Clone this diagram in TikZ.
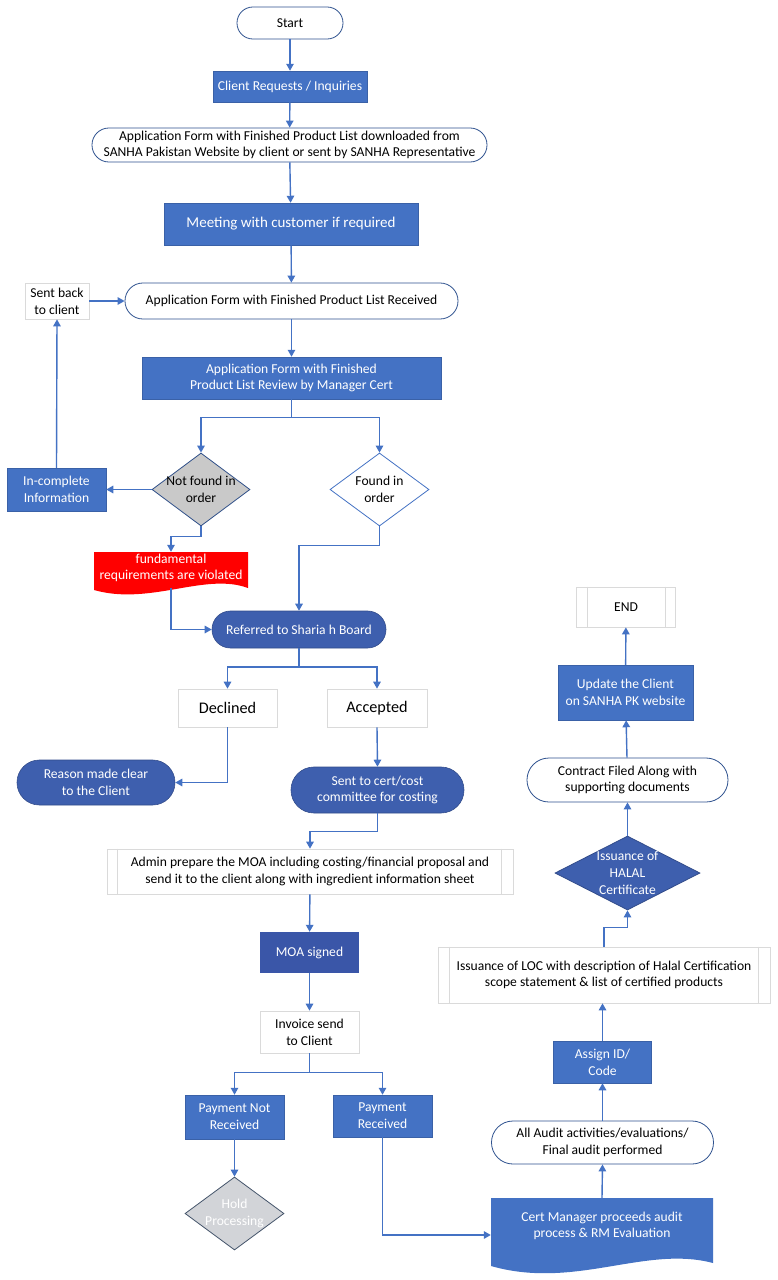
\documentclass[tikz,border=0pt]{standalone}
\usepackage{fontspec}
\setmainfont{Carlito}
\usetikzlibrary{arrows.meta,shapes.geometric,calc}
\definecolor{obl}{HTML}{4472C4}
\definecolor{dbl}{HTML}{3E5FAE}
\definecolor{mbl}{HTML}{3A56A8}
\definecolor{bord}{HTML}{2F528F}
\definecolor{faintc}{HTML}{DADADA}
\definecolor{gry}{HTML}{C9C9C9}
\definecolor{lgry}{HTML}{D2D4D8}
\definecolor{slate}{HTML}{44546A}
\newcommand\fs{\fontsize{13.6pt}{16.7pt}\selectfont}
\newcommand\fsb{\fontsize{15pt}{18pt}\selectfont}
\newcommand\fsc{\fontsize{16.2pt}{19pt}\selectfont}
\tikzset{
  sz/.style 2 args={minimum width=#1pt, minimum height=#2pt},
  base/.style={inner sep=0pt, align=center, font=\fs},
  term/.style={base, draw=bord, line width=0.8pt, fill=white},
  blu/.style={base, fill=obl, draw=obl!85!black, line width=0.5pt, text=white},
  dstad/.style={base, fill=dbl, draw=dbl!80!black, line width=0.6pt, text=white},
  pale/.style={base, draw=faintc, line width=0.7pt, fill=white},
  paleline/.style={draw=faintc, line width=0.7pt},
  dia/.style={diamond, inner sep=0pt, line width=0.8pt},
  conn/.style={draw=obl, line width=1.4pt, -{Triangle[length=7pt,width=7.5pt]}},
}
\begin{document}
\begin{tikzpicture}[x=1pt,y=-1pt]
\fill[white] (0,0) rectangle (778,1280);
\useasboundingbox (0,0) rectangle (778,1280);

% left column / main flow
\node[term, sz={106}{32}, rounded corners=15.9pt] (start) at (290,23) {Start};
\node[blu, sz={154}{31}] (cli) at (290,86.5) {Client Requests / Inquiries};
\node[term, sz={395}{34}, rounded corners=16.9pt] (adl) at (289.5,145) {Application Form with Finished Product List downloaded from\\SANHA Pakistan Website by client or sent by SANHA Representative};
\node[blu, sz={254}{42}, font=\fsb] (meet) at (291,224) {Meeting with customer if required};
\node[term, sz={333}{36}, rounded corners=17.9pt] (apr) at (291.5,301) {Application Form with Finished Product List Received};
\node[pale, sz={64}{36}] (sb) at (57,301) {Sent back\\to client};
\node[blu, sz={299}{42}] (rev) at (291.5,378) {Application Form with Finished\\Product List Review by Manager Cert};
\node[dia, draw=obl!70!black, fill=gry, sz={98}{73}, label={[base]center:Not found in\\order}] (nf) at (201,489.5) {};
\node[dia, draw=obl, fill=white, sz={99}{73}, label={[base]center:Found in\\order}] (fo) at (379.5,489.5) {};
\node[blu, sz={99}{43}] (inc) at (56.5,489.5) {In-complete\\Information};

\fill[red] (94,552) -- (248,552) -- (248,588) .. controls (205,572) and (150,606) .. (94,590) -- cycle;
\node[base, text=white, sz={154}{32}] (fund) at (171,568) {fundamental\\requirements are violated};

\node[dstad, sz={174}{37}, rounded corners=18.4pt] (ref) at (299,629.5) {Referred to Sharia h Board};
\node[pale, sz={99}{38}, font=\fsc] (dec) at (227.5,708) {Declined};
\node[pale, sz={100}{38}, font=\fsc] (acc) at (377,708) {Accepted};
\node[dstad, sz={158}{45}, rounded corners=22.4pt] (rea) at (96,782.5) {Reason made clear\\to the Client};
\node[dstad, sz={173}{46}, rounded corners=22.9pt] (sent) at (377.5,790) {Sent to cert/cost\\committee for costing};
\node[pale, sz={406}{45}] (adm) at (310,871.5) {Admin prepare the MOA including costing/financial proposal and\\send it to the client along with ingredient information sheet};
\draw[paleline] ([xshift=11pt]adm.north west) -- ([xshift=11pt]adm.south west);
\draw[paleline] ([xshift=-12pt]adm.north east) -- ([xshift=-12pt]adm.south east);
\node[base, fill=mbl, text=white, sz={99}{41}] (moa) at (309.5,952.5) {MOA signed};
\node[pale, sz={99}{42}] (inv) at (309.5,1032) {Invoice send\\to Client};
\node[blu, sz={99}{44}] (pnr) at (234.5,1117) {Payment Not\\Received};
\node[blu, sz={99}{42}] (pr) at (382.5,1116) {Payment\\Received};
\node[dia, draw=slate, fill=lgry, sz={99}{73}, label={[base, text=white]center:Hold\\Processing}] (hold) at (234.5,1213.5) {};

% right column
\fill[obl] (491,1198) -- (713,1198) -- (713,1263) .. controls (645,1245) and (575,1290) .. (491,1266) -- cycle;
\node[base, text=white, sz={222}{56}] (cert) at (602,1226) {Cert Manager proceeds audit\\process \& RM Evaluation};
\node[term, sz={222}{43}, rounded corners=21.4pt] (aud) at (602.5,1142.5) {All Audit activities/evaluations/\\Final audit performed};
\node[blu, sz={98}{42}] (asg) at (602.5,1062) {Assign ID/\\Code};
\node[pale, sz={332}{56}] (loc) at (604,975) {Issuance of LOC with description of Halal Certification\\scope statement \& list of certified products};
\draw[paleline] ([xshift=12pt]loc.north west) -- ([xshift=12pt]loc.south west);
\draw[paleline] ([xshift=-12pt]loc.north east) -- ([xshift=-12pt]loc.south east);
\node[dia, draw=dbl!80!black, fill=dbl, sz={145}{74}, label={[base, text=white]center:Issuance of\\HALAL\\Certificate}] (hal) at (627.5,873) {};
\node[term, sz={201}{44}, rounded corners=21.9pt] (con) at (627.5,780) {Contract Filed Along with\\supporting documents};
\node[blu, sz={135}{55}] (upd) at (625.5,692.5) {Update the Client\\on SANHA PK website};
\node[pale, sz={99}{40}] (end) at (626,607) {END};
\draw[paleline] ([xshift=11pt]end.north west) -- ([xshift=11pt]end.south west);
\draw[paleline] ([xshift=-11pt]end.north east) -- ([xshift=-11pt]end.south east);

% connectors
\draw[conn] (start) -- (cli);
\draw[conn] (cli) -- (adl);
\draw[conn] (adl) -- (meet);
\draw[conn] (meet) -- (apr);
\draw[conn] (sb) -- (apr);
\draw[conn] (apr) -- (rev);
\draw[conn] (rev.south) -- ++(0,18) -| (nf.north);
\draw[conn] (rev.south) -- ++(0,18) -| (fo.north);
\draw[conn] (nf.west) -- (inc.east);
\draw[conn] (inc.north) -- (sb.south);
\draw[conn] (nf.south) -- ++(0,10) -| (fund.north);
\draw[conn] ([yshift=-4pt]fund.south) |- (ref.west);
\draw[conn] (fo.south) -- ++(0,19) -| (ref.north);
\draw[conn] (ref.south) -- ++(0,18.5) -| (dec.north);
\draw[conn] (ref.south) -- ++(0,18.5) -| (acc.north);
\draw[conn] (dec.south) |- (rea.east);
\draw[conn] (acc.south) -- (sent.north);
\draw[conn] (sent.south) -- ++(0,18) -| (adm.north);
\draw[conn] (adm) -- (moa);
\draw[conn] (moa) -- (inv);
\draw[conn] (inv.south) -- ++(0,19) -| (pnr.north);
\draw[conn] (inv.south) -- ++(0,19) -| (pr.north);
\draw[conn] (pnr) -- (hold);
\draw[conn] (pr.south) |- ([yshift=-9pt]cert.west);
\draw[conn] (cert.north) -- (aud.south);
\draw[conn] (aud) -- (asg);
\draw[conn] (asg.north) -- (asg.north |- loc.south);
\draw[conn] (loc.north) -- ++(0,-19) -| (hal.south);
\draw[conn] (hal) -- (con);
\draw[conn] (con) -- (upd);
\draw[conn] (upd) -- (end);
\end{tikzpicture}
\end{document}
